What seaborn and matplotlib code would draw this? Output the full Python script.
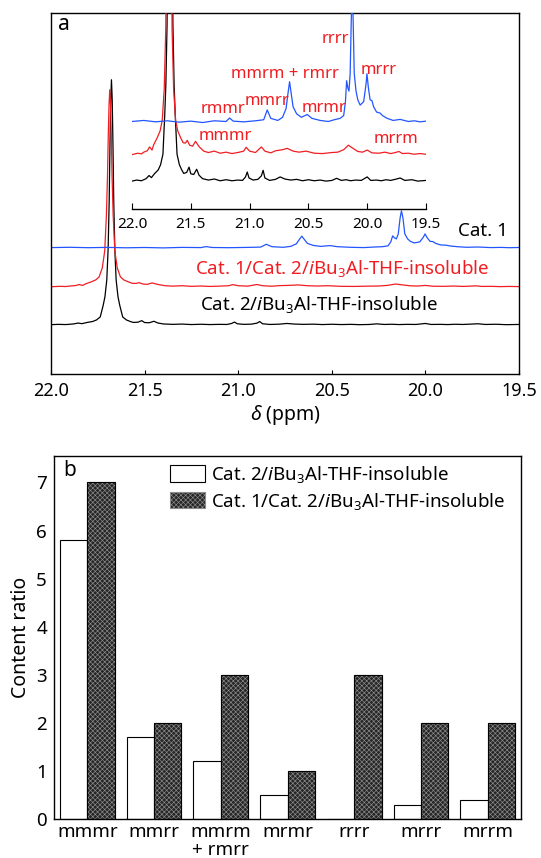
import numpy as np
import pandas as pd
import matplotlib
matplotlib.use('Agg')
import matplotlib.pyplot as plt
import seaborn as sns
from matplotlib.patches import Patch, Rectangle

# --- spectra (a), intensity in arbitrary units ---
black_ppm = [22.0, 21.96, 21.92, 21.88, 21.855, 21.835, 21.807, 21.777, 21.757, 21.737, 21.722, 21.712,
             21.702, 21.695, 21.689, 21.685, 21.681, 21.677, 21.673, 21.669, 21.665, 21.659, 21.652,
             21.642, 21.632, 21.617, 21.597, 21.577, 21.56, 21.535, 21.515, 21.5, 21.475, 21.45, 21.43,
             21.4, 21.35, 21.3, 21.25, 21.2, 21.15, 21.1, 21.06, 21.035, 21.02, 21.005, 20.97, 20.93,
             20.9, 20.885, 20.87, 20.83, 20.78, 20.74, 20.7, 20.65, 20.6, 20.55, 20.5, 20.45, 20.4,
             20.35, 20.3, 20.26, 20.22, 20.18, 20.14, 20.1, 20.05, 20.0, 19.97, 19.92, 19.88, 19.84,
             19.8, 19.75, 19.72, 19.68, 19.62, 19.57, 19.5]
black_int = [0.3, 0.6, 0.4, 1.0, 1.9, 1.3, 2.5, 3.5, 5.0, 8.0, 19.0, 28.0,
             45.0, 75.0, 125.0, 180.0, 225.0, 245.0, 225.0, 180.0, 125.0, 75.0, 45.0,
             28.0, 19.0, 8.0, 5.0, 3.5, 2.5, 2.8, 4.3, 2.4, 2.2, 3.7, 2.0,
             1.0, 0.6, 0.9, 0.4, 0.7, 0.4, 0.6, 0.5, 1.5, 2.9, 1.2, 0.6, 0.8,
             1.8, 3.4, 1.2, 0.5, 0.8, 1.5, 0.9, 0.6, 0.8, 0.4, 0.7, 0.4, 0.6,
             0.3, 0.5, 1.1, 0.5, 0.7, 0.4, 0.6, 0.5, 1.5, 0.5, 0.6, 0.4, 0.7,
             0.5, 0.9, 1.2, 0.5, 0.7, 0.3, 0.5]

red_ppm = [22.0, 21.95, 21.92, 21.9, 21.87, 21.85, 21.83, 21.816, 21.786, 21.761, 21.743, 21.726,
           21.713, 21.704, 21.698, 21.694, 21.69, 21.686, 21.682, 21.678, 21.674, 21.668, 21.659,
           21.646, 21.629, 21.611, 21.586, 21.565, 21.545, 21.53, 21.51, 21.485, 21.46, 21.43, 21.39,
           21.35, 21.3, 21.25, 21.2, 21.15, 21.1, 21.05, 21.03, 21.0, 20.95, 20.9, 20.87, 20.82,
           20.78, 20.72, 20.68, 20.63, 20.58, 20.52, 20.45, 20.38, 20.3, 20.25, 20.2, 20.16, 20.13,
           20.08, 20.04, 20.0, 19.96, 19.9, 19.85, 19.8, 19.76, 19.73, 19.7, 19.65, 19.6, 19.55, 19.5]
red_int = [0.2, 0.6, 0.4, 0.9, 1.3, 2.4, 1.5, 3.0, 5.0, 7.0, 10.0, 19.0,
           36.0, 72.0, 112.0, 152.0, 182.0, 197.0, 182.0, 152.0, 112.0, 72.0, 36.0,
           19.0, 10.0, 7.0, 5.0, 3.6, 3.5, 4.3, 2.9, 2.6, 4.0, 2.5, 1.2,
           0.8, 1.2, 0.6, 0.9, 0.5, 0.8, 1.2, 2.3, 1.2, 0.8, 2.4, 1.2, 0.7,
           1.3, 1.6, 2.0, 1.2, 0.9, 1.2, 0.6, 0.5, 0.8, 0.9, 1.6, 2.9, 2.2,
           1.1, 0.9, 1.5, 0.7, 0.6, 0.9, 0.5, 0.8, 1.1, 0.5, 0.6, 0.3, 0.5, 0.3]

blue_ppm = [22.0, 21.9, 21.8, 21.7, 21.6, 21.5, 21.4, 21.3, 21.2, 21.17, 21.14, 21.05, 20.95, 20.88,
            20.85, 20.82, 20.76, 20.72, 20.69, 20.675, 20.66, 20.645, 20.63, 20.6, 20.56, 20.51,
            20.47, 20.4, 20.33, 20.28, 20.23, 20.2, 20.185, 20.175, 20.165, 20.155, 20.145, 20.135,
            20.128, 20.12, 20.11, 20.095, 20.08, 20.06, 20.03, 20.01, 20.002, 19.99, 19.975, 19.96,
            19.945, 19.92, 19.89, 19.87, 19.83, 19.78, 19.72, 19.65, 19.6, 19.55, 19.5]
blue_int = [0.3, 0.6, 0.2, 0.5, 0.1, 0.4, 0.0, 0.5, 0.3, 1.3, 0.4, 0.2, 0.5, 0.8,
            3.6, 1.2, 0.6, 1.5, 4.0, 8.0, 11.7, 8.0, 4.5, 2.5, 1.5, 2.3,
            1.2, 0.6, 0.3, 0.8, 1.2, 2.0, 6.0, 12.0, 10.0, 9.0, 14.0, 30.0,
            37.0, 30.0, 14.0, 9.0, 6.5, 5.0, 6.0, 11.0, 14.0, 10.0, 6.5, 6.3,
            4.5, 3.0, 2.7, 2.0, 1.2, 0.6, 0.9, 0.3, 0.5, 0.2, 0.4]

ppm_ticks = [22.0, 21.5, 21.0, 20.5, 20.0, 19.5]

inset_labels = ['rrrr', 'mmrm + rmrr', 'mrrr', 'rmmr', 'mmrr', 'mrmr', 'mmmr', 'mrrm']

# --- bars (b) ---
triads = ['mmmr', 'mmrr', 'mmrm\n+ rmrr', 'mrmr', 'rrrr', 'mrrr', 'mrrm']
cat2_vals = [5.8, 1.7, 1.2, 0.5, 0.0, 0.3, 0.4]
cat12_vals = [7.0, 2.0, 3.0, 1.0, 3.0, 2.0, 2.0]
lab_cat2 = 'Cat. 2/$\\it{i}$Bu$_3$Al-THF-insoluble'
lab_cat12 = 'Cat. 1/Cat. 2/$\\it{i}$Bu$_3$Al-THF-insoluble'

sns.set_style('white')
plt.rcParams['font.family'] = ['Noto Sans', 'DejaVu Sans']
plt.rcParams['mathtext.fontset'] = 'custom'
plt.rcParams['mathtext.rm'] = 'Noto Sans'
plt.rcParams['mathtext.it'] = 'Noto Sans:italic'
plt.rcParams['hatch.linewidth'] = 0.45
plt.rcParams['axes.linewidth'] = 1.0
for key in ['text.color', 'axes.labelcolor', 'xtick.color', 'ytick.color', 'axes.edgecolor']:
    plt.rcParams[key] = 'black'

RED = '#f01e23'
BLUE = '#2255ff'
DARK = '#262626'
HATCH = '#8c8c8c'

fig = plt.figure(figsize=(5.41, 8.58), dpi=100)

# main spectrum
ax1 = fig.add_axes([51 / 541, 1 - 374 / 858, 468 / 541, 361.3 / 858])
traces = [(black_ppm, black_int, 'black'), (red_ppm, red_int, RED), (blue_ppm, blue_int, BLUE)]
main_off = [0, 38, 77]
for (xs, ys, c), off in zip(traces, main_off):
    sns.lineplot(x=xs, y=np.array(ys) + off, ax=ax1, color=c, lw=0.9, sort=False, estimator=None)
ax1.set_xlim(22, 19.5)
ax1.set_ylim(-49, 312)
ax1.set_yticks([])
ax1.set_xticks(ppm_ticks)
ax1.set_xticklabels([f'{t:.1f}' for t in ppm_ticks])
ax1.tick_params(axis='x', direction='in', length=3, width=0.8, labelsize=13, pad=6, bottom=True)
ax1.set_xlabel(r'$\mathit{\delta}$ (ppm)', fontsize=14, labelpad=2)
ax1.text(0.027, 0.966, 'a', transform=ax1.transAxes, fontsize=15, ha='center', va='center')
ax1.text(19.69, 94, 'Cat. 1', fontsize=13.5, ha='center', va='center', color='black')
ax1.text(20.445, 56, lab_cat12, fontsize=13.5, ha='center', va='center', color=RED)
ax1.text(20.57, 20, lab_cat2, fontsize=13.5, ha='center', va='center', color='black')

# inset
ax2 = fig.add_axes([132 / 541, 1 - 209 / 858, 294 / 541, 196.3 / 858])
ax2.patch.set_alpha(0)
inset_off = [0, 7.7, 17.1]
for (xs, ys, c), off in zip(traces, inset_off):
    sns.lineplot(x=xs, y=np.array(ys) + off, ax=ax2, color=c, lw=0.9, sort=False, estimator=None)
ax2.set_xlim(22, 19.5)
ax2.set_ylim(-7.7, 48.6)
ax2.set_yticks([])
ax2.set_xticks(ppm_ticks)
ax2.set_xticklabels([f'{t:.1f}' for t in ppm_ticks])
ax2.tick_params(axis='x', direction='in', length=4, width=0.8, labelsize=11, pad=6, bottom=True)
for s in ['top', 'left', 'right']:
    ax2.spines[s].set_visible(False)
label_pos = [(20.274, 41.1), (20.70, 31.1), (19.90, 32.3), (21.226, 20.9),
             (20.852, 23.2), (20.37, 21.4), (21.203, 13.1), (19.758, 12.3)]
for s, (px, py) in zip(inset_labels, label_pos):
    ax2.text(px, py, s, color=RED, fontsize=12, ha='center', va='center')

# bar chart
ax3 = fig.add_axes([54 / 541, 39 / 858, 467 / 541, 363 / 858])
df = pd.DataFrame({'triad': triads * 2,
                   'ratio': cat2_vals + cat12_vals,
                   'sample': ['cat2'] * len(triads) + ['cat12'] * len(triads)})
sns.barplot(data=df, x='triad', y='ratio', hue='sample', palette=['white', DARK],
            width=0.82, edgecolor='black', linewidth=0.8, saturation=1, legend=False, ax=ax3)
n = len(triads)
for p in ax3.patches[n:2 * n]:
    p.set_hatch('xxxxxxx')
    p.set_edgecolor(HATCH)
    ax3.add_patch(Rectangle(p.get_xy(), p.get_width(), p.get_height(), fill=False,
                            edgecolor='black', lw=0.8, zorder=p.get_zorder() + 0.1))
ax3.set_xlim(-0.5, 6.5)
ax3.set_ylim(0, 7.55)
ax3.set_yticks(range(8))
ax3.set_xlabel('')
ax3.set_ylabel('Content ratio', fontsize=14, labelpad=4)
ax3.tick_params(axis='both', length=0, labelsize=13.5)
ax3.tick_params(axis='x', pad=3)
ax3.tick_params(axis='y', pad=5)
for t in ax3.get_xticklabels():
    t.set_linespacing(1.0)
ax3.text(0.033, 0.961, 'b', transform=ax3.transAxes, fontsize=15, ha='center', va='center')
handles = [Patch(facecolor='white', edgecolor='black', lw=0.8),
           Patch(facecolor=DARK, edgecolor=HATCH, hatch='xxxxxxx', lw=0.8)]
ax3.legend(handles, [lab_cat2, lab_cat12], loc='upper left', bbox_to_anchor=(0.248, 0.978),
           frameon=False, fontsize=13.5, handlelength=1.9, handleheight=0.95,
           handletextpad=0.3, labelspacing=0.3, borderpad=0, borderaxespad=0)

fig.savefig('out.png', dpi=100)
